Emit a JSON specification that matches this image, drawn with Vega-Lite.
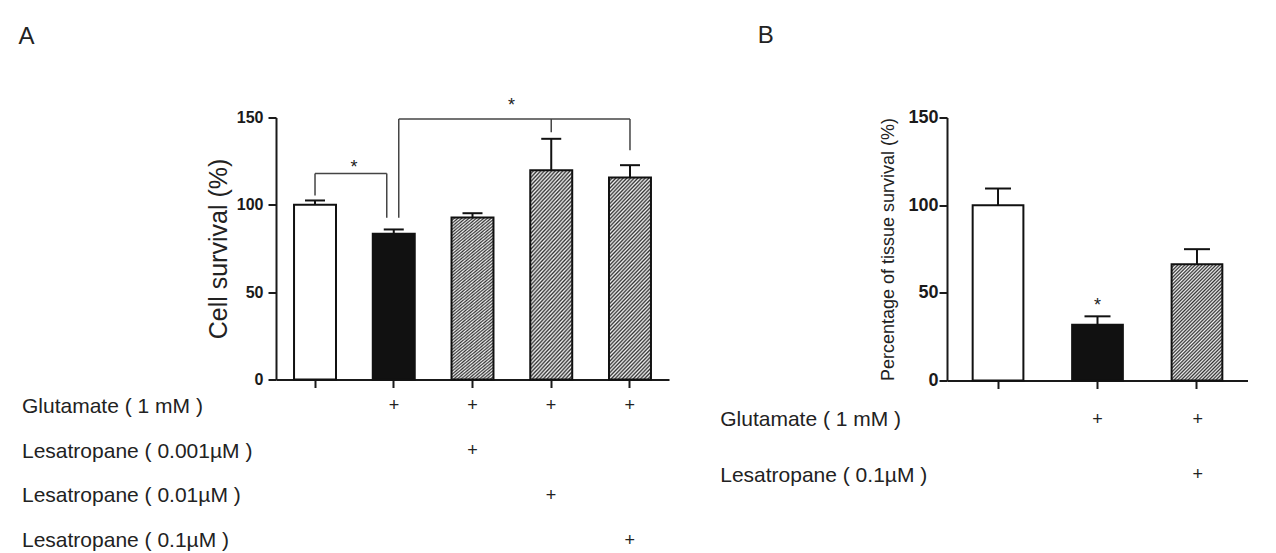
{
"$schema": "https://vega.github.io/schema/vega-lite/v6.json",
"background": "white",
"padding": {"left": 18, "top": 23.5, "right": 0, "bottom": 0},
"config": {"view": {"stroke": null}, "font": "Liberation Sans", "axis": {"grid": false, "domainColor": "#1a1a1a", "tickColor": "#1a1a1a", "labelColor": "#1a1a1a", "titleColor": "#222"}},
"datasets": {
"barsA": [
{"group": "1", "type": "control", "mean": 100, "up": 102.5},
{"group": "2", "type": "glutamate", "mean": 83.4, "up": 85.9},
{"group": "3", "type": "lesatropane", "mean": 92.7, "up": 95.2},
{"group": "4", "type": "lesatropane", "mean": 119.8, "up": 137.8},
{"group": "5", "type": "lesatropane", "mean": 115.6, "up": 122.7}
],
"bracketsA": [
{"seg": "p", "g": "1", "g2": "1", "v": 118, "v2": 105.3},
{"seg": "p", "g": "4", "g2": "4", "v": 149.2, "v2": 141.6},
{"seg": "p", "g": "5", "g2": "5", "v": 149.2, "v2": 131.3},
{"seg": "q", "g": "1", "g2": "2", "v": 118, "v2": 118},
{"seg": "r", "g": "2", "g2": "2", "v": 118, "v2": 92.6},
{"seg": "s", "g": "2", "g2": "5", "v": 149.2, "v2": 149.2},
{"seg": "t", "g": "2", "g2": "2", "v": 149.2, "v2": 92.6}
],
"starsA": [
{"g": "1", "v": 118},
{"g": "3", "v": 153.5}
],
"tableA": [
{"row": "Glutamate ( 1 mM )", "group": "2"},
{"row": "Glutamate ( 1 mM )", "group": "3"},
{"row": "Glutamate ( 1 mM )", "group": "4"},
{"row": "Glutamate ( 1 mM )", "group": "5"},
{"row": "Lesatropane ( 0.001µM )", "group": "3"},
{"row": "Lesatropane ( 0.01µM )", "group": "4"},
{"row": "Lesatropane ( 0.1µM )", "group": "5"}
],
"barsB": [
{"group": "1", "type": "control", "mean": 100, "up": 109.5},
{"group": "2", "type": "glutamate", "mean": 31.8, "up": 36.6},
{"group": "3", "type": "lesatropane", "mean": 66.3, "up": 74.9}
],
"starsB": [
{"g": "2", "v": 39.6}
],
"tableB": [
{"row": "Glutamate ( 1 mM )", "group": "2"},
{"row": "Glutamate ( 1 mM )", "group": "3"},
{"row": "Lesatropane ( 0.1µM )", "group": "3"}
]
},
"spacing": 671,
"bounds": "flush",
"hconcat": [
{
"title": {"text": "A", "anchor": "start", "frame": "bounds", "fontSize": 24, "fontWeight": "normal", "color": "#222", "baseline": "alphabetic", "offset": 29.5, "dx": -3},
"bounds": "flush",
"spacing": 18,
"vconcat": [
{
"width": 393,
"height": 262,
"layer": [
{
"data": {"name": "barsA"},
"mark": {"type": "bar", "stroke": "#111", "strokeWidth": 2},
"encoding": {
"x": {"field": "group", "type": "nominal", "scale": {"domain": ["1", "2", "3", "4", "5"], "paddingInner": 0.467, "paddingOuter": 0.229}, "axis": {"title": null, "labels": false, "tickSize": 8, "tickWidth": 2, "domainWidth": 2}},
"y": {"field": "mean", "type": "quantitative", "scale": {"domain": [0, 150], "nice": false}, "axis": {"values": [0, 50, 100, 150], "title": "Cell survival (%)", "titleFontSize": 25, "titleFontWeight": "normal", "titlePadding": 5, "labelFontSize": 16, "labelFontWeight": "bold", "labelPadding": 5, "tickSize": 8, "tickWidth": 2, "domainWidth": 2}},
"fill": {"condition": [
{"test": "datum.type === 'lesatropane'", "value": {"gradient": "linear", "x1": 0, "y1": 0, "x2": 0.2527, "y2": 1.1625, "stops": [
{"offset":0,"color":"#333"},{"offset":0.0078,"color":"#f0f0f0"},{"offset":0.0156,"color":"#333"},{"offset":0.0234,"color":"#f0f0f0"},{"offset":0.0313,"color":"#333"},{"offset":0.0391,"color":"#f0f0f0"},{"offset":0.0469,"color":"#333"},{"offset":0.0547,"color":"#f0f0f0"},{"offset":0.0625,"color":"#333"},{"offset":0.0703,"color":"#f0f0f0"},{"offset":0.0781,"color":"#333"},{"offset":0.0859,"color":"#f0f0f0"},{"offset":0.0938,"color":"#333"},{"offset":0.1016,"color":"#f0f0f0"},{"offset":0.1094,"color":"#333"},{"offset":0.1172,"color":"#f0f0f0"},{"offset":0.125,"color":"#333"},{"offset":0.1328,"color":"#f0f0f0"},{"offset":0.1406,"color":"#333"},{"offset":0.1484,"color":"#f0f0f0"},{"offset":0.1563,"color":"#333"},{"offset":0.1641,"color":"#f0f0f0"},{"offset":0.1719,"color":"#333"},{"offset":0.1797,"color":"#f0f0f0"},{"offset":0.1875,"color":"#333"},{"offset":0.1953,"color":"#f0f0f0"},{"offset":0.2031,"color":"#333"},{"offset":0.2109,"color":"#f0f0f0"},{"offset":0.2188,"color":"#333"},{"offset":0.2266,"color":"#f0f0f0"},{"offset":0.2344,"color":"#333"},{"offset":0.2422,"color":"#f0f0f0"},{"offset":0.25,"color":"#333"},{"offset":0.2578,"color":"#f0f0f0"},{"offset":0.2656,"color":"#333"},{"offset":0.2734,"color":"#f0f0f0"},{"offset":0.2813,"color":"#333"},{"offset":0.2891,"color":"#f0f0f0"},{"offset":0.2969,"color":"#333"},{"offset":0.3047,"color":"#f0f0f0"},{"offset":0.3125,"color":"#333"},{"offset":0.3203,"color":"#f0f0f0"},{"offset":0.3281,"color":"#333"},{"offset":0.3359,"color":"#f0f0f0"},{"offset":0.3438,"color":"#333"},{"offset":0.3516,"color":"#f0f0f0"},{"offset":0.3594,"color":"#333"},{"offset":0.3672,"color":"#f0f0f0"},{"offset":0.375,"color":"#333"},{"offset":0.3828,"color":"#f0f0f0"},{"offset":0.3906,"color":"#333"},{"offset":0.3984,"color":"#f0f0f0"},{"offset":0.4063,"color":"#333"},{"offset":0.4141,"color":"#f0f0f0"},{"offset":0.4219,"color":"#333"},{"offset":0.4297,"color":"#f0f0f0"},{"offset":0.4375,"color":"#333"},{"offset":0.4453,"color":"#f0f0f0"},{"offset":0.4531,"color":"#333"},{"offset":0.4609,"color":"#f0f0f0"},{"offset":0.4688,"color":"#333"},{"offset":0.4766,"color":"#f0f0f0"},{"offset":0.4844,"color":"#333"},{"offset":0.4922,"color":"#f0f0f0"},{"offset":0.5,"color":"#333"},{"offset":0.5078,"color":"#f0f0f0"},{"offset":0.5156,"color":"#333"},{"offset":0.5234,"color":"#f0f0f0"},{"offset":0.5313,"color":"#333"},{"offset":0.5391,"color":"#f0f0f0"},{"offset":0.5469,"color":"#333"},{"offset":0.5547,"color":"#f0f0f0"},{"offset":0.5625,"color":"#333"},{"offset":0.5703,"color":"#f0f0f0"},{"offset":0.5781,"color":"#333"},{"offset":0.5859,"color":"#f0f0f0"},{"offset":0.5938,"color":"#333"},{"offset":0.6016,"color":"#f0f0f0"},{"offset":0.6094,"color":"#333"},{"offset":0.6172,"color":"#f0f0f0"},{"offset":0.625,"color":"#333"},{"offset":0.6328,"color":"#f0f0f0"},{"offset":0.6406,"color":"#333"},{"offset":0.6484,"color":"#f0f0f0"},{"offset":0.6563,"color":"#333"},{"offset":0.6641,"color":"#f0f0f0"},{"offset":0.6719,"color":"#333"},{"offset":0.6797,"color":"#f0f0f0"},{"offset":0.6875,"color":"#333"},{"offset":0.6953,"color":"#f0f0f0"},{"offset":0.7031,"color":"#333"},{"offset":0.7109,"color":"#f0f0f0"},{"offset":0.7188,"color":"#333"},{"offset":0.7266,"color":"#f0f0f0"},{"offset":0.7344,"color":"#333"},{"offset":0.7422,"color":"#f0f0f0"},{"offset":0.75,"color":"#333"},{"offset":0.7578,"color":"#f0f0f0"},{"offset":0.7656,"color":"#333"},{"offset":0.7734,"color":"#f0f0f0"},{"offset":0.7813,"color":"#333"},{"offset":0.7891,"color":"#f0f0f0"},{"offset":0.7969,"color":"#333"},{"offset":0.8047,"color":"#f0f0f0"},{"offset":0.8125,"color":"#333"},{"offset":0.8203,"color":"#f0f0f0"},{"offset":0.8281,"color":"#333"},{"offset":0.8359,"color":"#f0f0f0"},{"offset":0.8438,"color":"#333"},{"offset":0.8516,"color":"#f0f0f0"},{"offset":0.8594,"color":"#333"},{"offset":0.8672,"color":"#f0f0f0"},{"offset":0.875,"color":"#333"},{"offset":0.8828,"color":"#f0f0f0"},{"offset":0.8906,"color":"#333"},{"offset":0.8984,"color":"#f0f0f0"},{"offset":0.9063,"color":"#333"},{"offset":0.9141,"color":"#f0f0f0"},{"offset":0.9219,"color":"#333"},{"offset":0.9297,"color":"#f0f0f0"},{"offset":0.9375,"color":"#333"},{"offset":0.9453,"color":"#f0f0f0"},{"offset":0.9531,"color":"#333"},{"offset":0.9609,"color":"#f0f0f0"},{"offset":0.9688,"color":"#333"},{"offset":0.9766,"color":"#f0f0f0"},{"offset":0.9844,"color":"#333"},{"offset":0.9922,"color":"#f0f0f0"},{"offset":1,"color":"#333"}
]}},
{"test": "datum.type === 'glutamate'", "value": "#111"}
], "value": "white"}
}
},
{
"data": {"name": "barsA"},
"mark": {"type": "rule", "color": "#111", "strokeWidth": 2},
"encoding": {
"x": {"field": "group", "type": "nominal"},
"y": {"field": "mean", "type": "quantitative", "scale": {"domain": [0, 150], "nice": false}},
"y2": {"field": "up"}
}
},
{
"data": {"name": "barsA"},
"mark": {"type": "rule", "color": "#111", "strokeWidth": 2, "xOffset": -10, "x2Offset": 10},
"encoding": {
"x": {"field": "group", "type": "nominal"},
"x2": {"field": "group"},
"y": {"field": "up", "type": "quantitative", "scale": {"domain": [0, 150], "nice": false}}
}
},
{
"data": {"name": "bracketsA"},
"transform": [{"filter": "datum.seg === 'p'"}],
"mark": {"type": "rule", "color": "#444", "strokeWidth": 1.5},
"encoding": {"x": {"field": "g", "type": "nominal"}, "x2": {"field": "g2"}, "y": {"field": "v", "type": "quantitative", "scale": {"domain": [0, 150], "nice": false}}, "y2": {"field": "v2"}}
},
{
"data": {"name": "bracketsA"},
"transform": [{"filter": "datum.seg === 'q'"}],
"mark": {"type": "rule", "color": "#444", "strokeWidth": 1.5, "x2Offset": -7},
"encoding": {"x": {"field": "g", "type": "nominal"}, "x2": {"field": "g2"}, "y": {"field": "v", "type": "quantitative", "scale": {"domain": [0, 150], "nice": false}}, "y2": {"field": "v2"}}
},
{
"data": {"name": "bracketsA"},
"transform": [{"filter": "datum.seg === 'r'"}],
"mark": {"type": "rule", "color": "#444", "strokeWidth": 1.5, "xOffset": -7, "x2Offset": -7},
"encoding": {"x": {"field": "g", "type": "nominal"}, "x2": {"field": "g2"}, "y": {"field": "v", "type": "quantitative", "scale": {"domain": [0, 150], "nice": false}}, "y2": {"field": "v2"}}
},
{
"data": {"name": "bracketsA"},
"transform": [{"filter": "datum.seg === 's'"}],
"mark": {"type": "rule", "color": "#444", "strokeWidth": 1.5, "xOffset": 5},
"encoding": {"x": {"field": "g", "type": "nominal"}, "x2": {"field": "g2"}, "y": {"field": "v", "type": "quantitative", "scale": {"domain": [0, 150], "nice": false}}, "y2": {"field": "v2"}}
},
{
"data": {"name": "bracketsA"},
"transform": [{"filter": "datum.seg === 't'"}],
"mark": {"type": "rule", "color": "#444", "strokeWidth": 1.5, "xOffset": 5, "x2Offset": 5},
"encoding": {"x": {"field": "g", "type": "nominal"}, "x2": {"field": "g2"}, "y": {"field": "v", "type": "quantitative", "scale": {"domain": [0, 150], "nice": false}}, "y2": {"field": "v2"}}
},
{
"data": {"name": "starsA"},
"mark": {"type": "text", "text": "*", "fontSize": 18, "baseline": "alphabetic", "xOffset": 39, "color": "#222"},
"encoding": {"x": {"field": "g", "type": "nominal"}, "y": {"field": "v", "type": "quantitative", "scale": {"domain": [0, 150], "nice": false}}}
}
]
},
{
"width": 393,
"height": 152,
"data": {"name": "tableA"},
"mark": {"type": "text", "text": "+", "fontSize": 18, "color": "#222", "baseline": "middle"},
"encoding": {
"x": {"field": "group", "type": "nominal", "scale": {"domain": ["1", "2", "3", "4", "5"], "paddingInner": 0.467, "paddingOuter": 0.229}, "axis": null},
"y": {"field": "row", "type": "nominal", "scale": {"type": "point", "domain": ["Glutamate ( 1 mM )", "Lesatropane ( 0.001µM )", "Lesatropane ( 0.01µM )", "Lesatropane ( 0.1µM )"], "padding": 0.2}, "axis": {"title": null, "domain": false, "ticks": false, "tickSize": 0, "labelAlign": "left", "labelPadding": 254.5, "labelFontSize": 21, "labelLimit": 400, "labelColor": "#222", "labelBaseline": "middle"}}
}
}
]
},
{
"title": {"text": "B", "anchor": "start", "frame": "bounds", "fontSize": 24, "fontWeight": "normal", "color": "#222", "baseline": "alphabetic", "offset": 41.5, "dx": 38},
"bounds": "flush",
"spacing": 28,
"vconcat": [
{
"width": 301,
"height": 263,
"layer": [
{
"data": {"name": "barsB"},
"mark": {"type": "bar", "stroke": "#111", "strokeWidth": 2},
"encoding": {
"x": {"field": "group", "type": "nominal", "scale": {"domain": ["1", "2", "3"], "paddingInner": 0.49, "paddingOuter": 0.258}, "axis": {"title": null, "labels": false, "tickSize": 8, "tickWidth": 2, "domainWidth": 2}},
"y": {"field": "mean", "type": "quantitative", "scale": {"domain": [0, 150], "nice": false}, "axis": {"values": [0, 50, 100, 150], "title": "Percentage of tissue survival (%)", "titleFontSize": 18, "titleFontWeight": "normal", "titlePadding": 10, "labelFontSize": 18, "labelFontWeight": "bold", "labelPadding": 1, "tickSize": 8, "tickWidth": 2, "domainWidth": 2}},
"fill": {"condition": [
{"test": "datum.type === 'lesatropane'", "value": {"gradient": "linear", "x1": 0, "y1": 0, "x2": 0.5265, "y2": 1.2067, "stops": [
{"offset":0,"color":"#333"},{"offset":0.0104,"color":"#f0f0f0"},{"offset":0.0208,"color":"#333"},{"offset":0.0313,"color":"#f0f0f0"},{"offset":0.0417,"color":"#333"},{"offset":0.0521,"color":"#f0f0f0"},{"offset":0.0625,"color":"#333"},{"offset":0.0729,"color":"#f0f0f0"},{"offset":0.0833,"color":"#333"},{"offset":0.0938,"color":"#f0f0f0"},{"offset":0.1042,"color":"#333"},{"offset":0.1146,"color":"#f0f0f0"},{"offset":0.125,"color":"#333"},{"offset":0.1354,"color":"#f0f0f0"},{"offset":0.1458,"color":"#333"},{"offset":0.1563,"color":"#f0f0f0"},{"offset":0.1667,"color":"#333"},{"offset":0.1771,"color":"#f0f0f0"},{"offset":0.1875,"color":"#333"},{"offset":0.1979,"color":"#f0f0f0"},{"offset":0.2083,"color":"#333"},{"offset":0.2188,"color":"#f0f0f0"},{"offset":0.2292,"color":"#333"},{"offset":0.2396,"color":"#f0f0f0"},{"offset":0.25,"color":"#333"},{"offset":0.2604,"color":"#f0f0f0"},{"offset":0.2708,"color":"#333"},{"offset":0.2813,"color":"#f0f0f0"},{"offset":0.2917,"color":"#333"},{"offset":0.3021,"color":"#f0f0f0"},{"offset":0.3125,"color":"#333"},{"offset":0.3229,"color":"#f0f0f0"},{"offset":0.3333,"color":"#333"},{"offset":0.3438,"color":"#f0f0f0"},{"offset":0.3542,"color":"#333"},{"offset":0.3646,"color":"#f0f0f0"},{"offset":0.375,"color":"#333"},{"offset":0.3854,"color":"#f0f0f0"},{"offset":0.3958,"color":"#333"},{"offset":0.4063,"color":"#f0f0f0"},{"offset":0.4167,"color":"#333"},{"offset":0.4271,"color":"#f0f0f0"},{"offset":0.4375,"color":"#333"},{"offset":0.4479,"color":"#f0f0f0"},{"offset":0.4583,"color":"#333"},{"offset":0.4688,"color":"#f0f0f0"},{"offset":0.4792,"color":"#333"},{"offset":0.4896,"color":"#f0f0f0"},{"offset":0.5,"color":"#333"},{"offset":0.5104,"color":"#f0f0f0"},{"offset":0.5208,"color":"#333"},{"offset":0.5313,"color":"#f0f0f0"},{"offset":0.5417,"color":"#333"},{"offset":0.5521,"color":"#f0f0f0"},{"offset":0.5625,"color":"#333"},{"offset":0.5729,"color":"#f0f0f0"},{"offset":0.5833,"color":"#333"},{"offset":0.5938,"color":"#f0f0f0"},{"offset":0.6042,"color":"#333"},{"offset":0.6146,"color":"#f0f0f0"},{"offset":0.625,"color":"#333"},{"offset":0.6354,"color":"#f0f0f0"},{"offset":0.6458,"color":"#333"},{"offset":0.6563,"color":"#f0f0f0"},{"offset":0.6667,"color":"#333"},{"offset":0.6771,"color":"#f0f0f0"},{"offset":0.6875,"color":"#333"},{"offset":0.6979,"color":"#f0f0f0"},{"offset":0.7083,"color":"#333"},{"offset":0.7188,"color":"#f0f0f0"},{"offset":0.7292,"color":"#333"},{"offset":0.7396,"color":"#f0f0f0"},{"offset":0.75,"color":"#333"},{"offset":0.7604,"color":"#f0f0f0"},{"offset":0.7708,"color":"#333"},{"offset":0.7813,"color":"#f0f0f0"},{"offset":0.7917,"color":"#333"},{"offset":0.8021,"color":"#f0f0f0"},{"offset":0.8125,"color":"#333"},{"offset":0.8229,"color":"#f0f0f0"},{"offset":0.8333,"color":"#333"},{"offset":0.8438,"color":"#f0f0f0"},{"offset":0.8542,"color":"#333"},{"offset":0.8646,"color":"#f0f0f0"},{"offset":0.875,"color":"#333"},{"offset":0.8854,"color":"#f0f0f0"},{"offset":0.8958,"color":"#333"},{"offset":0.9063,"color":"#f0f0f0"},{"offset":0.9167,"color":"#333"},{"offset":0.9271,"color":"#f0f0f0"},{"offset":0.9375,"color":"#333"},{"offset":0.9479,"color":"#f0f0f0"},{"offset":0.9583,"color":"#333"},{"offset":0.9688,"color":"#f0f0f0"},{"offset":0.9792,"color":"#333"},{"offset":0.9896,"color":"#f0f0f0"},{"offset":1,"color":"#333"}
]}},
{"test": "datum.type === 'glutamate'", "value": "#111"}
], "value": "white"}
}
},
{
"data": {"name": "barsB"},
"mark": {"type": "rule", "color": "#111", "strokeWidth": 2},
"encoding": {
"x": {"field": "group", "type": "nominal"},
"y": {"field": "mean", "type": "quantitative", "scale": {"domain": [0, 150], "nice": false}},
"y2": {"field": "up"}
}
},
{
"data": {"name": "barsB"},
"mark": {"type": "rule", "color": "#111", "strokeWidth": 2, "xOffset": -13, "x2Offset": 13},
"encoding": {
"x": {"field": "group", "type": "nominal"},
"x2": {"field": "group"},
"y": {"field": "up", "type": "quantitative", "scale": {"domain": [0, 150], "nice": false}}
}
},
{
"data": {"name": "starsB"},
"mark": {"type": "text", "text": "*", "fontSize": 18, "baseline": "alphabetic", "color": "#222"},
"encoding": {"x": {"field": "g", "type": "nominal"}, "y": {"field": "v", "type": "quantitative", "scale": {"domain": [0, 150], "nice": false}}}
}
]
},
{
"width": 301,
"height": 78,
"data": {"name": "tableB"},
"mark": {"type": "text", "text": "+", "fontSize": 18, "color": "#222", "baseline": "middle"},
"encoding": {
"x": {"field": "group", "type": "nominal", "scale": {"domain": ["1", "2", "3"], "paddingInner": 0.49, "paddingOuter": 0.258}, "axis": null},
"y": {"field": "row", "type": "nominal", "scale": {"type": "point", "domain": ["Glutamate ( 1 mM )", "Lesatropane ( 0.1µM )"], "padding": 0.2}, "axis": {"title": null, "domain": false, "ticks": false, "tickSize": 0, "labelAlign": "left", "labelPadding": 227.3, "labelFontSize": 21, "labelLimit": 400, "labelColor": "#222", "labelBaseline": "middle"}}
}
}
]
}
]
}
